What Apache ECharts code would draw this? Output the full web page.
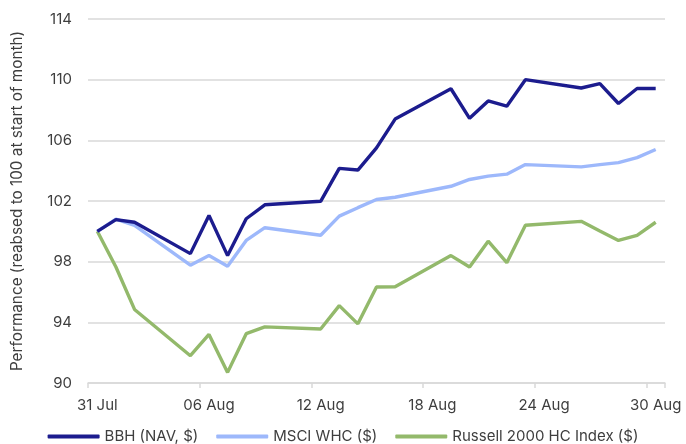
<!DOCTYPE html>
<html>
<head>
<meta charset="utf-8">
<script src="https://cdn.jsdelivr.net/npm/echarts@6/dist/echarts.min.js"></script>
<style>
  html, body { margin:0; padding:0; background:#fff; }
  #chart { width:686px; height:444px; }
</style>
</head>
<body>
<div id="chart"></div>
<script>
// every calendar day on the axis, 31 Jul -> 30 Aug
var days = ['31 Jul','01 Aug','02 Aug','03 Aug','04 Aug','05 Aug','06 Aug','07 Aug','08 Aug','09 Aug',
            '10 Aug','11 Aug','12 Aug','13 Aug','14 Aug','15 Aug','16 Aug','17 Aug','18 Aug','19 Aug',
            '20 Aug','21 Aug','22 Aug','23 Aug','24 Aug','25 Aug','26 Aug','27 Aug','28 Aug','29 Aug','30 Aug'];

// trading days that have a value
var tradeDays = ['31 Jul','01 Aug','02 Aug','05 Aug','06 Aug','07 Aug','08 Aug','09 Aug','12 Aug','13 Aug',
                 '14 Aug','15 Aug','16 Aug','19 Aug','20 Aug','21 Aug','22 Aug','23 Aug','26 Aug','27 Aug',
                 '28 Aug','29 Aug','30 Aug'];

var bbh    = [100, 100.77, 100.6, 98.53, 101.05, 98.4, 100.83, 101.75, 101.98, 104.15,
              104.04, 105.5, 107.4, 109.4, 107.45, 108.6, 108.25, 110.0, 109.45, 109.74,
              108.43, 109.42, 109.42];
var msci   = [100, 100.8, 100.4, 97.77, 98.4, 97.7, 99.4, 100.24, 99.74, 101.0,
              101.56, 102.1, 102.25, 102.97, 103.42, 103.64, 103.77, 104.4, 104.25, 104.4,
              104.53, 104.86, 105.4];
var russell = [100, 97.65, 94.85, 91.8, 93.2, 90.7, 93.25, 93.7, 93.56, 95.1,
               93.9, 96.33, 96.35, 98.4, 97.65, 99.35, 97.93, 100.4, 100.66, 100.02,
               99.4, 99.74, 100.6];

var seriesNames = ['BBH (NAV, $)', 'MSCI WHC ($)', 'Russell 2000 HC Index ($)'];
var colors = ['#1c1c8e', '#9db8fb', '#93b96b'];

function pairs(vals){
  return tradeDays.map(function(d,i){ return [d, vals[i]]; });
}

var font = 'Inter, "Noto Sans", sans-serif';
var txt = '#3e3e3e';

var chart = echarts.init(document.getElementById('chart'));
var option = {
  animation:false,
  textStyle:{fontFamily:font},
  grid:{left:88, right:21, top:19, bottom:61, containLabel:false},
  legend:{
    top:424, left:'center',
    itemWidth:52, itemHeight:4, itemGap:18,
    icon:'roundRect',
    textStyle:{color:txt, fontSize:15, fontFamily:font},
    data:seriesNames
  },
  xAxis:{
    type:'category',
    data:days,
    boundaryGap:true,
    axisLine:{show:true, lineStyle:{color:'#d9d9d9', width:1.5}},
    axisTick:{show:true, interval:5, length:5, lineStyle:{color:'#d9d9d9', width:1.5}},
    axisLabel:{interval:5, color:txt, fontSize:15, margin:15, fontFamily:font},
    splitLine:{show:false}
  },
  yAxis:{
    type:'value',
    min:90, max:114, interval:4,
    name:'Performance (reabsed to 100 at start of month)',
    nameLocation:'middle',
    nameGap:63,
    nameTextStyle:{color:txt, fontSize:15.3, fontFamily:font},
    axisLine:{show:false},
    axisTick:{show:false},
    axisLabel:{color:txt, fontSize:15, margin:16, fontFamily:font},
    splitLine:{lineStyle:{color:'#d9d9d9', width:1.5}}
  },
  series:[
    {name:seriesNames[0], type:'line', data:pairs(bbh), showSymbol:false, color:colors[0],
     lineStyle:{width:3.4, color:colors[0]}, z:5},
    {name:seriesNames[1], type:'line', data:pairs(msci), showSymbol:false, color:colors[1],
     lineStyle:{width:3.4, color:colors[1]}, z:4},
    {name:seriesNames[2], type:'line', data:pairs(russell), showSymbol:false, color:colors[2],
     lineStyle:{width:3.4, color:colors[2]}, z:3}
  ]
};
chart.setOption(option);
</script>
</body>
</html>
